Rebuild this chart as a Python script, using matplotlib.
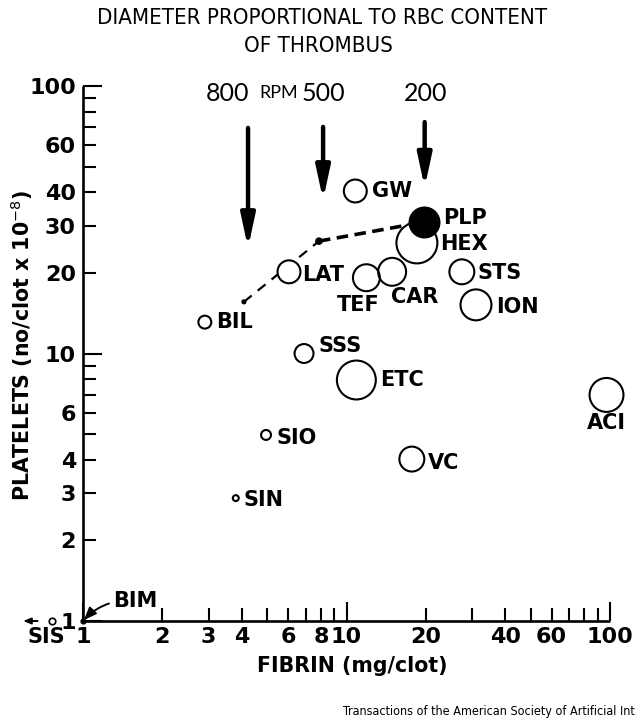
import matplotlib
matplotlib.use("Agg")
import matplotlib.pyplot as plt
from matplotlib.ticker import FixedLocator, FuncFormatter

plt.rcParams["font.family"] = ["DejaVu Sans"]
plt.rcParams["mathtext.fontset"] = "dejavusans"

# ---- data -------------------------------------------------------------
samples = ["BIL", "LAT", "GW", "PLP", "HEX", "TEF", "CAR", "STS", "ION",
           "SSS", "ETC", "SIO", "SIN", "VC", "ACI"]
fibrin = [2.9, 6.05, 10.8, 19.7, 18.5, 11.9, 14.9, 27.4, 31.0,
          6.9, 10.9, 4.95, 3.8, 17.7, 97.0]            # mg/clot
platelets = [13.1, 20.2, 40.5, 31.0, 25.9, 19.2, 20.2, 20.2, 15.2,
             10.0, 7.96, 4.96, 2.88, 4.03, 7.0]         # no/clot x 10^-8
rbc_diameter = [15, 25, 25, 32, 43, 29, 30, 27, 33,
                21, 41, 12, 8, 27, 36]                   # relative RBC content
filled = ["PLP"]

# off-scale / origin samples
bim = (1.0, 1.0)
sis = (0.76, 1.0)

# rotation speed series (dashed trend)
rpm_labels = ["800", "500", "200"]
rpm_fibrin = [4.08, 7.86, 19.7]
rpm_platelets = [15.6, 26.3, 31.0]

x_ticklabels = [1, 2, 3, 4, 6, 8, 10, 20, 40, 60, 100]
y_ticklabels = [1, 2, 3, 4, 6, 10, 20, 30, 40, 60, 100]

# ---- figure ------------------------------------------------------------
DPI = 100
fig = plt.figure(figsize=(6.36, 7.22), dpi=DPI)
ax = fig.add_axes([83 / 636, 101 / 722, 527 / 636, 535 / 722])
ax.set_xscale("log")
ax.set_yscale("log")
ax.set_xlim(1, 100)
ax.set_ylim(1, 100)

for s in ("top", "right"):
    ax.spines[s].set_visible(False)
for s in ("left", "bottom"):
    ax.spines[s].set_linewidth(1.9)
    ax.spines[s].set_capstyle("butt")

decades = [1, 10, 100]
minor = [m * d for d in (1, 10) for m in range(2, 10)]
for axis, labels in ((ax.xaxis, x_ticklabels), (ax.yaxis, y_ticklabels)):
    axis.set_major_locator(FixedLocator(decades))
    axis.set_minor_locator(FixedLocator(minor))
    fmt = FuncFormatter(lambda v, p, labels=labels:
                        "%d" % round(v) if round(v) in labels else "")
    axis.set_major_formatter(fmt)
    axis.set_minor_formatter(fmt)

ax.tick_params(which="both", direction="in", width=1.5, labelsize=16,
               colors="black")
ax.tick_params(which="major", length=13.5)
ax.tick_params(which="minor", length=9.5)
ax.tick_params(axis="x", which="both", pad=4)
ax.tick_params(axis="y", which="both", pad=5)
for lab in ax.get_xticklabels(which="both") + ax.get_yticklabels(which="both"):
    lab.set_fontweight("bold")

# dashed trend through the rotation-speed points
ax.plot(rpm_fibrin[:2], rpm_platelets[:2], ls=(0, (4.5, 3.5)), lw=1.6,
        color="black", zorder=2)
ax.plot(rpm_fibrin[1:], rpm_platelets[1:], ls=(0, (3.2, 1.8)), lw=2.6,
        color="black", zorder=2)
ax.scatter(rpm_fibrin[:2], rpm_platelets[:2], s=[14, 30], color="black",
           zorder=2, linewidths=0)

# bubbles: diameter follows RBC content
px = 72.0 / DPI
edge_lw = 1.5
sizes = [max(d * px - edge_lw, 1) ** 2 for d in rbc_diameter]
open_idx = [i for i, n in enumerate(samples) if n not in filled]
fill_idx = [i for i, n in enumerate(samples) if n in filled]
ax.scatter([fibrin[i] for i in open_idx], [platelets[i] for i in open_idx],
           s=[sizes[i] for i in open_idx], facecolor="white",
           edgecolor="none", zorder=3, clip_on=False)
ax.scatter([fibrin[i] for i in open_idx], [platelets[i] for i in open_idx],
           s=[sizes[i] for i in open_idx], facecolor="none",
           edgecolor="black", linewidths=edge_lw, zorder=4, clip_on=False)
ax.scatter([fibrin[i] for i in fill_idx], [platelets[i] for i in fill_idx],
           s=[sizes[i] for i in fill_idx], facecolor="black",
           edgecolor="black", linewidths=edge_lw, zorder=5, clip_on=False)

# sample labels (offsets in pixels)
label_layout = {
    "BIL": (11, 0, "left"), "LAT": (13, -3, "left"), "GW": (17, 0, "left"),
    "PLP": (19, 4, "left"), "HEX": (23, -1, "left"),
    "TEF": (-8, -27, "center"), "CAR": (23, -25, "center"),
    "STS": (16, -1, "left"), "ION": (20, -2, "left"),
    "SSS": (14, 8, "left"), "ETC": (24, 0, "left"), "SIO": (10, -3, "left"),
    "SIN": (8, -2, "left"), "VC": (16, -4, "left"),
    "ACI": (0, -28, "center"),
}
for name, fx, py in zip(samples, fibrin, platelets):
    dx, dy, ha = label_layout[name]
    ax.annotate(name, (fx, py), xytext=(dx * px, dy * px),
                textcoords="offset points", ha=ha, va="center",
                fontsize=15, fontweight="bold", zorder=6,
                annotation_clip=False)

# BIM at the origin
ax.scatter([bim[0]], [bim[1]], s=12, color="black", zorder=6, clip_on=False)
ax.annotate("BIM", xy=bim, xytext=(1.30, 1.19), textcoords="data",
            ha="left", va="center", fontsize=15, fontweight="bold",
            arrowprops=dict(arrowstyle="-|>,head_length=0.5,head_width=0.2",
                            connectionstyle="arc3,rad=0.25", lw=1.4,
                            color="black", shrinkA=1, shrinkB=1),
            annotation_clip=False)

# SIS lies off the scale to the left
ax.scatter([sis[0]], [sis[1]], s=22, facecolor="white", edgecolor="black",
           linewidths=1.2, zorder=6, clip_on=False)
ax.annotate("", xy=(0.592, 1.0), xytext=(0.672, 1.0), textcoords="data",
            arrowprops=dict(arrowstyle="-|>,head_length=0.45,head_width=0.18",
                            lw=1.4, color="black", shrinkA=0, shrinkB=0),
            annotation_clip=False)
ax.text(0.724, 0.875, "SIS", ha="center", va="center", fontsize=15,
        fontweight="bold", clip_on=False)

# rotation-speed arrows and labels
arrow_x = [4.23, 8.15, 19.8]
arrow_tail = [69.7, 70.3, 73.3]
arrow_tip = [24.8, 37.5, 41.7]
for xa, y0, y1 in zip(arrow_x, arrow_tail, arrow_tip):
    ax.annotate("", xy=(xa, y1), xytext=(xa, y0), textcoords="data",
                arrowprops=dict(arrowstyle="-|>,head_length=1.95,head_width=0.42",
                                lw=3.2, color="black", shrinkA=0, shrinkB=0),
                annotation_clip=False)

rpm_text_x = [3.55, 8.2, 19.9]
for xt, lab in zip(rpm_text_x, rpm_labels):
    ax.text(xt, 94, lab, ha="center", va="center", fontsize=18,
            family=["Lato", "DejaVu Sans"], fontweight="normal",
            color="black", clip_on=False)
ax.text(5.55, 94, "RPM", ha="center", va="center", fontsize=13,
        family=["Lato", "DejaVu Sans"], fontweight="normal",
        color="black", clip_on=False)

# titles and axis labels
title1 = fig.text(322 / 636, 1 - 18 / 722,
                  "DIAMETER PROPORTIONAL TO RBC CONTENT",
                  ha="center", va="center", fontsize=16, fontstretch="condensed")
title2 = fig.text(318 / 636, 1 - 46 / 722, "OF THROMBUS",
                  ha="center", va="center", fontsize=16, fontstretch="condensed")
fig.text(22 / 636, 1 - 345 / 722, r"PLATELETS (no/clot x 10$^{-8}$)",
         rotation=90, ha="center", va="center", fontsize=14.8,
         fontweight="bold")
fig.text(352 / 636, 1 - 666 / 722, "FIBRIN (mg/clot)",
         ha="center", va="center", fontsize=14.8, fontweight="bold")
footer = fig.text(343 / 636, 1 - 712 / 722,
                  "Transactions of the American Society of Artificial Int",
                  ha="left", va="center", fontsize=10, fontstretch="condensed")

# size the title and the footer to their printed widths
fig.canvas.draw()
renderer = fig.canvas.get_renderer()
for txt, width_px in ((title1, 451), (footer, 291)):
    w = txt.get_window_extent(renderer).width
    scale = width_px / w
    txt.set_fontsize(txt.get_fontsize() * scale)
    if txt is title1:
        title2.set_fontsize(title2.get_fontsize() * scale)

fig.savefig("out.png", dpi=DPI, facecolor="white")
